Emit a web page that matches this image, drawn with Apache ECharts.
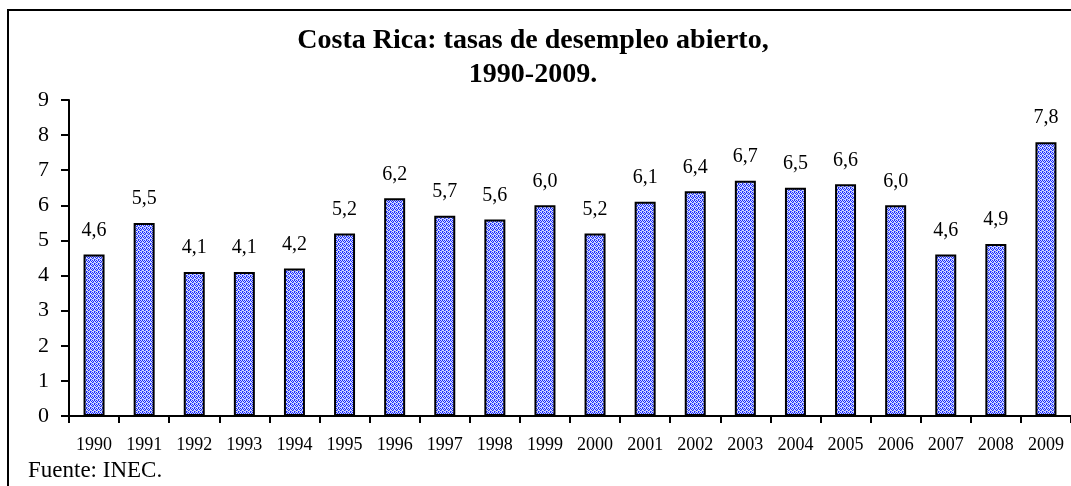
<!DOCTYPE html>
<html>
<head>
<meta charset="utf-8">
<script src="https://cdn.jsdelivr.net/npm/echarts@6/dist/echarts.min.js"></script>
<style>
  html, body { margin: 0; padding: 0; background: #fff; }
  #chart { width: 1071px; height: 486px; }
</style>
</head>
<body>
<div id="chart"></div>
<script>
// datos
const years = ['1990', '1991', '1992', '1993', '1994', '1995', '1996', '1997', '1998', '1999',
  '2000', '2001', '2002', '2003', '2004', '2005', '2006', '2007', '2008', '2009']
const desempleo = [4.6, 5.5, 4.1, 4.1, 4.2, 5.2, 6.2, 5.7, 5.6, 6.0,
  5.2, 6.1, 6.4, 6.7, 6.5, 6.6, 6.0, 4.6, 4.9, 7.8]
const yTicks = [0, 1, 2, 3, 4, 5, 6, 7, 8, 9]

const serif = '"Liberation Serif", "Times New Roman", serif'

// patron de puntos azules para las barras
function makePattern () {
  const c = document.createElement('canvas')
  c.width = 4
  c.height = 4
  const ctx = c.getContext('2d')
  ctx.fillStyle = '#d4daff'
  ctx.fillRect(0, 0, 4, 4)
  ctx.fillStyle = '#1a2bff'
  ctx.fillRect(0, 0, 1, 1)
  ctx.fillRect(1, 1, 1, 1)
  ctx.fillRect(2, 0, 1, 1)
  ctx.fillRect(3, 1, 1, 1)
  ctx.fillRect(0, 2, 1, 1)
  ctx.fillRect(2, 3, 1, 1)
  ctx.fillStyle = '#7d8cff'
  ctx.fillRect(1, 2, 1, 1)
  ctx.fillRect(3, 3, 1, 1)
  return c
}

const chart = echarts.init(document.getElementById('chart'))
const option = {
  animation: false,
  backgroundColor: '#fff',
  textStyle: { fontFamily: serif },
  title: {
    text: 'Costa Rica: tasas de desempleo abierto,\n1990-2009.',
    left: 528,
    top: 19,
    textAlign: 'center',
    textStyle: {
      fontFamily: serif,
      fontWeight: 'bold',
      fontSize: 28,
      lineHeight: 34,
      color: '#000'
    }
  },
  graphic: [
    {
      type: 'rect',
      shape: { x: 8, y: 10, width: 1200, height: 600 },
      style: { fill: 'none', stroke: '#000', lineWidth: 2 },
      silent: true
    },
    {
      type: 'text',
      left: 28,
      top: 459,
      style: { text: 'Fuente: INEC.', font: '23px ' + serif, fill: '#000' }
    }
  ],
  grid: { left: 69, right: -9, top: 100, bottom: 70, containLabel: false },
  xAxis: {
    type: 'category',
    data: years,
    axisLine: { lineStyle: { color: '#000', width: 2 } },
    axisTick: { show: true, length: 7, lineStyle: { color: '#000', width: 2 } },
    axisLabel: { color: '#000', fontSize: 18, fontFamily: serif, margin: 20, interval: 0 }
  },
  yAxis: {
    type: 'value',
    min: yTicks[0],
    max: yTicks[yTicks.length - 1],
    interval: 1,
    splitLine: { show: false },
    axisLine: { show: true, lineStyle: { color: '#000', width: 2 } },
    axisTick: { show: true, length: 8, lineStyle: { color: '#000', width: 2 } },
    axisLabel: { color: '#000', fontSize: 22, fontFamily: serif, margin: 20 }
  },
  series: [
    {
      type: 'bar',
      data: desempleo,
      barWidth: 21,
      itemStyle: {
        color: { image: makePattern(), repeat: 'repeat' },
        borderColor: '#000',
        borderWidth: 2
      },
      label: {
        show: true,
        position: 'top',
        distance: 14,
        color: '#000',
        fontSize: 20,
        fontFamily: serif,
        formatter: p => p.value.toFixed(1).replace('.', ',')
      }
    }
  ]
}
chart.setOption(option)
</script>
</body>
</html>
